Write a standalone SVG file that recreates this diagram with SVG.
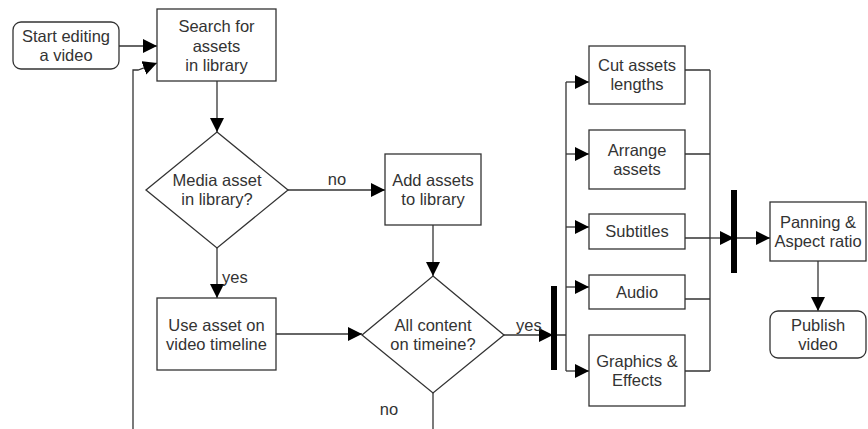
<svg xmlns="http://www.w3.org/2000/svg" width="868" height="429" viewBox="0 0 868 429">
<defs>
<style>
.n{fill:#fff;stroke:#333;stroke-width:1.3}
.t{font-family:"Liberation Sans",Arial,sans-serif;font-size:16.5px;fill:#333;text-anchor:middle}
.l{font-family:"Liberation Sans",Arial,sans-serif;font-size:16.5px;fill:#333}
.c{fill:none;stroke:#333;stroke-width:1.3}
.a{marker-end:url(#arr)}
.bar{fill:#000}
</style>
<marker id="arr" markerUnits="userSpaceOnUse" markerWidth="15" markerHeight="15" refX="14" refY="7" orient="auto">
<path d="M0,0 L14,7 L0,14 Z" fill="#000"/>
</marker>
</defs>
<rect width="868" height="429" fill="#fff"/>
<g id="connectors">
<path class="c a" d="M119,46 H157"/>
<path class="c a" d="M133,429 V70 H138 L157,63"/>
<path class="c a" d="M217,81 V132"/>
<path class="c a" d="M288,190 H385"/>
<path class="c a" d="M217,248 V298"/>
<path class="c a" d="M433,225 V276"/>
<path class="c a" d="M276,334 H362"/>
<path class="c a" d="M504,335 H553"/>
<path class="c" d="M557,335 H566 M566,82 V371"/>
<path class="c a" d="M566,82 H589"/>
<path class="c a" d="M566,154 H589"/>
<path class="c a" d="M566,227 H589"/>
<path class="c a" d="M566,287 H589"/>
<path class="c a" d="M566,371 H589"/>
<path class="c" d="M685,70 H710 M685,154 H710 M685,238 H710 M685,299 H710 M685,371 H710 M710,70 V371"/>
<path class="c a" d="M710,238 H734"/>
<path class="c a" d="M734,238 H770"/>
<path class="c a" d="M818,261 V311"/>
<path class="c" d="M433,393 V429"/>
<rect class="bar" x="551" y="286" width="6" height="84"/>
<rect class="bar" x="731" y="190" width="6" height="83"/>
<text class="t" x="337" y="185">no</text>
<text class="l" x="222" y="283">yes</text>
<text class="l" x="516" y="331">yes</text>
<text class="t" x="389" y="415">no</text>
</g>
<g id="start">
<rect class="n" x="13" y="22" width="106" height="47" rx="8"/>
<text class="t" x="66" y="42">Start editing</text>
<text class="t" x="66" y="61">a video</text>
</g>
<g id="search">
<rect class="n" x="157" y="9" width="119" height="72"/>
<text class="t" x="216.5" y="32">Search for</text>
<text class="t" x="216.5" y="51.5">assets</text>
<text class="t" x="216.5" y="71">in library</text>
</g>
<g id="media">
<path class="n" d="M217,132 L288,190 L217,248 L146,190 Z"/>
<text class="t" x="217" y="186">Media asset</text>
<text class="t" x="217" y="205">in library?</text>
</g>
<g id="add">
<rect class="n" x="385" y="154" width="96" height="71"/>
<text class="t" x="433" y="186">Add assets</text>
<text class="t" x="433" y="205">to library</text>
</g>
<g id="use">
<rect class="n" x="157" y="298" width="119" height="72"/>
<text class="t" x="216.5" y="331">Use asset on</text>
<text class="t" x="216.5" y="350">video timeline</text>
</g>
<g id="allcontent">
<path class="n" d="M433,276 L504,335 L433,393 L362,335 Z"/>
<text class="t" x="433" y="331">All content</text>
<text class="t" x="433" y="350">on timeine?</text>
</g>
<g id="cut">
<rect class="n" x="589" y="46" width="96" height="58"/>
<text class="t" x="637" y="71">Cut assets</text>
<text class="t" x="637" y="90">lengths</text>
</g>
<g id="arrange">
<rect class="n" x="589" y="130" width="96" height="59"/>
<text class="t" x="637" y="156">Arrange</text>
<text class="t" x="637" y="175">assets</text>
</g>
<g id="subtitles">
<rect class="n" x="589" y="214" width="96" height="35"/>
<text class="t" x="637" y="237">Subtitles</text>
</g>
<g id="audio">
<rect class="n" x="589" y="275" width="96" height="34"/>
<text class="t" x="637" y="298">Audio</text>
</g>
<g id="graphics">
<rect class="n" x="589" y="335" width="96" height="71"/>
<text class="t" x="637" y="367">Graphics &amp;</text>
<text class="t" x="637" y="386">Effects</text>
</g>
<g id="panning">
<rect class="n" x="770" y="202" width="96" height="59"/>
<text class="t" x="818" y="228">Panning &amp;</text>
<text class="t" x="818" y="247">Aspect ratio</text>
</g>
<g id="publish">
<rect class="n" x="770" y="311" width="96" height="47" rx="8"/>
<text class="t" x="818" y="331">Publish</text>
<text class="t" x="818" y="350">video</text>
</g>
</svg>
